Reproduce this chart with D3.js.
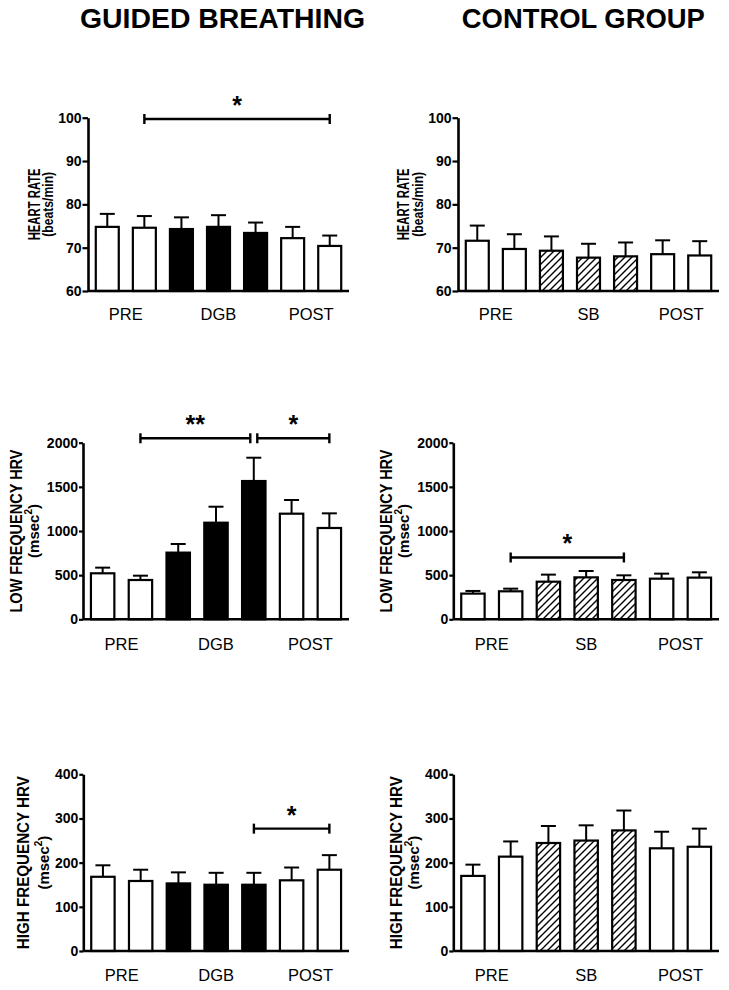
<!DOCTYPE html>
<html><head><meta charset="utf-8">
<script src="https://cdn.jsdelivr.net/npm/d3@7"></script>
<style>body{margin:0;background:#fff} svg{display:block}</style>
</head><body>
<svg id="chart" width="729" height="990"></svg>
<script>
// ---------- DATA ----------
const timePoints = ["T1","T2","T3","T4","T5","T6","T7"];
const groupTitles = ["GUIDED BREATHING","CONTROL GROUP"];
const phaseLabelsGB = ["PRE","DGB","POST"];
const phaseLabelsCG = ["PRE","SB","POST"];
const fillGB = ["open","open","solid","solid","solid","open","open"];
const fillCG = ["open","open","hatch","hatch","hatch","open","open"];

const hrTicks = [60,70,80,90,100];
const lfTicks = [0,500,1000,1500,2000];
const hfTicks = [0,100,200,300,400];

const hrGB = [74.8, 74.6, 74.3, 74.8, 73.4, 72.2, 70.4];
const hrGBSem = [3.0, 2.7, 2.7, 2.7, 2.4, 2.6, 2.4];
const hrCG = [71.6, 69.7, 69.3, 67.7, 68.0, 68.5, 68.2];
const hrCGSem = [3.5, 3.4, 3.3, 3.2, 3.2, 3.2, 3.3];

const lfGB = [521, 445, 755, 1094, 1566, 1196, 1034];
const lfGBSem = [64, 49, 98, 181, 264, 155, 166];
const lfCG = [291, 317, 426, 475, 445, 460, 472];
const lfCGSem = [30, 30, 80, 72, 53, 57, 60];

const hfGB = [168, 158.5, 153, 150, 150, 160, 184];
const hfGBSem = [26, 25.5, 25, 27, 27, 29, 33];
const hfCG = [170, 213.6, 244.5, 250, 273, 232.5, 236];
const hfCGSem = [25.5, 34.4, 38.5, 34.5, 45, 37.5, 41];

const hrGBSig = [{from:1, to:6, level:99.7, mark:"*"}];
const hrCGSig = [];
const lfGBSig = [{from:1, to:4, level:2050, mark:"**"}, {from:4, to:6, level:2050, mark:"*"}];
const lfCGSig = [{from:1, to:4, level:700, mark:"*"}];
const hfGBSig = [{from:4, to:6, level:277, mark:"*"}];
const hfCGSig = [];

// ---------- LAYOUT ----------
const FONT = "'Liberation Sans', Arial, Helvetica, sans-serif";
const panels = [
  {vals:hrGB, sem:hrGBSem, fills:fillGB, ticks:hrTicks, phases:phaseLabelsGB, sig:hrGBSig,
   lab1:"HEART RATE", lab2:"(beats/min)", sup:false,
   x0:88, x1:349, yB:291, yT:117.7, tick:5.5, l1x:39.5, l2x:52.5, l1len:72, l2len:65, l1fs:17, catDy:28.5},
  {vals:hrCG, sem:hrCGSem, fills:fillCG, ticks:hrTicks, phases:phaseLabelsCG, sig:hrCGSig,
   lab1:"HEART RATE", lab2:"(beats/min)", sup:false,
   x0:458, x1:719, yB:291, yT:117.7, tick:5.5, l1x:409.3, l2x:422.5, l1len:72, l2len:65, l1fs:17, catDy:28.5},
  {vals:lfGB, sem:lfGBSem, fills:fillGB, ticks:lfTicks, phases:phaseLabelsGB, sig:lfGBSig,
   lab1:"LOW FREQUENCY HRV", lab2:"(msec", sup:true,
   x0:83, x1:349, yB:619.3, yT:442.7, tick:4, l1x:21.9, l2x:38.5, l1len:163, l1fs:16.5, catDy:31},
  {vals:lfCG, sem:lfCGSem, fills:fillCG, ticks:lfTicks, phases:phaseLabelsCG, sig:lfCGSig,
   lab1:"LOW FREQUENCY HRV", lab2:"(msec", sup:true,
   x0:453.3, x1:719, yB:619.3, yT:442.7, tick:4, l1x:391.9, l2x:408.5, l1len:163, l1fs:16.5, catDy:31},
  {vals:hfGB, sem:hfGBSem, fills:fillGB, ticks:hfTicks, phases:phaseLabelsGB, sig:hfGBSig,
   lab1:"HIGH FREQUENCY HRV", lab2:"(msec", sup:true,
   x0:83.3, x1:349, yB:951, yT:774.3, tick:4, l1x:28.5, l2x:49, l1len:173, l1fs:16.5, catDy:29.7},
  {vals:hfCG, sem:hfCGSem, fills:fillCG, ticks:hfTicks, phases:phaseLabelsCG, sig:hfCGSig,
   lab1:"HIGH FREQUENCY HRV", lab2:"(msec", sup:true,
   x0:453.3, x1:719, yB:951, yT:774.3, tick:4, l1x:401.9, l2x:419, l1len:173, l1fs:16.5, catDy:29.7}
];
const titlePos = [{cx:222.5, w:285}, {cx:583.3, w:243}];

// ---------- DRAW ----------
const svg = d3.select("#chart");
svg.append("rect").attr("width",729).attr("height",990).attr("fill","#fff");
const defs = svg.append("defs");
const pat = defs.append("pattern").attr("id","hatch").attr("patternUnits","userSpaceOnUse")
  .attr("width",7).attr("height",7);
pat.append("rect").attr("width",7).attr("height",7).attr("fill","#fff");
pat.append("path").attr("d","M-1,1 l2,-2 M0,7 l7,-7 M6,8 l2,-2")
  .attr("stroke","#000").attr("stroke-width",1.4);

groupTitles.forEach((t,i)=>{
  svg.append("text").attr("x",titlePos[i].cx).attr("y",28).attr("text-anchor","middle")
    .attr("font-family",FONT).attr("font-weight","bold").attr("font-size",27)
    .attr("textLength",titlePos[i].w).attr("lengthAdjust","spacingAndGlyphs")
    .attr("fill","#000").text(t);
});

const fillColor = f => f==="solid" ? "#000" : (f==="hatch" ? "url(#hatch)" : "#fff");

panels.forEach(p=>{
  const g = svg.append("g");
  const dom = [p.ticks[0], p.ticks[p.ticks.length-1]];
  const y = d3.scaleLinear().domain(dom).range([p.yB, p.yT]);
  const x = d3.scaleBand().domain(timePoints).range([p.x0, p.x1])
    .paddingInner(0.38).paddingOuter(0.21);
  const cx = i => x(timePoints[i]) + x.bandwidth()/2;
  const bw = x.bandwidth();

  // error bars
  g.selectAll("line.err").data(p.vals).join("line")
    .attr("x1",(d,i)=>cx(i)).attr("x2",(d,i)=>cx(i))
    .attr("y1",d=>y(d)).attr("y2",(d,i)=>y(d+p.sem[i]))
    .attr("stroke","#000").attr("stroke-width",2);
  g.selectAll("line.cap").data(p.vals).join("line")
    .attr("x1",(d,i)=>cx(i)-7.5).attr("x2",(d,i)=>cx(i)+7.5)
    .attr("y1",(d,i)=>y(d+p.sem[i])).attr("y2",(d,i)=>y(d+p.sem[i]))
    .attr("stroke","#000").attr("stroke-width",2);

  // bars
  g.selectAll("rect.bar").data(p.vals).join("rect")
    .attr("x",(d,i)=>x(timePoints[i])).attr("width",bw)
    .attr("y",d=>y(d)).attr("height",d=>y(dom[0])-y(d))
    .attr("fill",(d,i)=>fillColor(p.fills[i]))
    .attr("stroke","#000").attr("stroke-width",2.2);

  // y axis
  const ax = d3.axisLeft(y).tickValues(p.ticks).tickFormat(d3.format("d"))
    .tickSize(p.tick).tickSizeOuter(0).tickPadding(1);
  const ag = g.append("g").attr("transform",`translate(${p.x0},0)`).call(ax);
  ag.select(".domain").attr("stroke","#000").attr("stroke-width",2.6);
  ag.selectAll(".tick line").attr("stroke","#000").attr("stroke-width",2.2);
  ag.selectAll(".tick text").attr("font-family",FONT).attr("font-weight","bold")
    .attr("font-size",14).attr("fill","#000");

  // x axis line
  g.append("line").attr("x1",p.x0).attr("x2",p.x1).attr("y1",y(dom[0])).attr("y2",y(dom[0]))
    .attr("stroke","#000").attr("stroke-width",2.6);

  // phase labels
  const phaseX = [(cx(0)+cx(1))/2, cx(3), (cx(5)+cx(6))/2];
  p.phases.forEach((t,i)=>{
    g.append("text").attr("x",phaseX[i]).attr("y",p.yB+p.catDy).attr("text-anchor","middle")
      .attr("font-family",FONT).attr("font-size",16.5).attr("fill","#000").text(t);
  });

  // y labels
  const midY = (p.yB+p.yT)/2;
  g.append("text").attr("transform",`translate(${p.l1x},${midY}) rotate(-90)`)
    .attr("text-anchor","middle").attr("font-family",FONT).attr("font-weight","bold")
    .attr("font-size",p.l1fs).attr("fill","#000")
    .attr("textLength",p.l1len).attr("lengthAdjust","spacingAndGlyphs").text(p.lab1);
  const t2 = g.append("text").attr("transform",`translate(${p.l2x},${midY}) rotate(-90)`)
    .attr("text-anchor","middle").attr("font-family",FONT).attr("font-weight","bold")
    .attr("font-size",15).attr("fill","#000");
  if (p.sup) {
    t2.append("tspan").text(p.lab2);
    t2.append("tspan").attr("font-size",10).attr("dy",-7).text("2");
    t2.append("tspan").attr("dy",7).text(")");
  } else {
    t2.attr("textLength",p.l2len).attr("lengthAdjust","spacingAndGlyphs").text(p.lab2);
  }

  // significance brackets
  p.sig.forEach(s=>{
    const others = p.sig.filter(o=>o!==s);
    let xa = cx(s.from), xb = cx(s.to);
    if (others.some(o=>o.from===s.to)) xb -= 3.5;
    if (others.some(o=>o.to===s.from)) xa += 3.5;
    const yy = y(s.level);
    g.append("line").attr("x1",xa).attr("x2",xb).attr("y1",yy).attr("y2",yy)
      .attr("stroke","#000").attr("stroke-width",2.4);
    [xa,xb].forEach(xx=>g.append("line").attr("x1",xx).attr("x2",xx)
      .attr("y1",yy-5).attr("y2",yy+5).attr("stroke","#000").attr("stroke-width",2.4));
    g.append("text").attr("x",(xa+xb)/2).attr("y",yy-5).attr("text-anchor","middle")
      .attr("font-family",FONT).attr("font-weight","bold").attr("font-size",25)
      .attr("fill","#000").text(s.mark);
  });
});
</script>
</body></html>
